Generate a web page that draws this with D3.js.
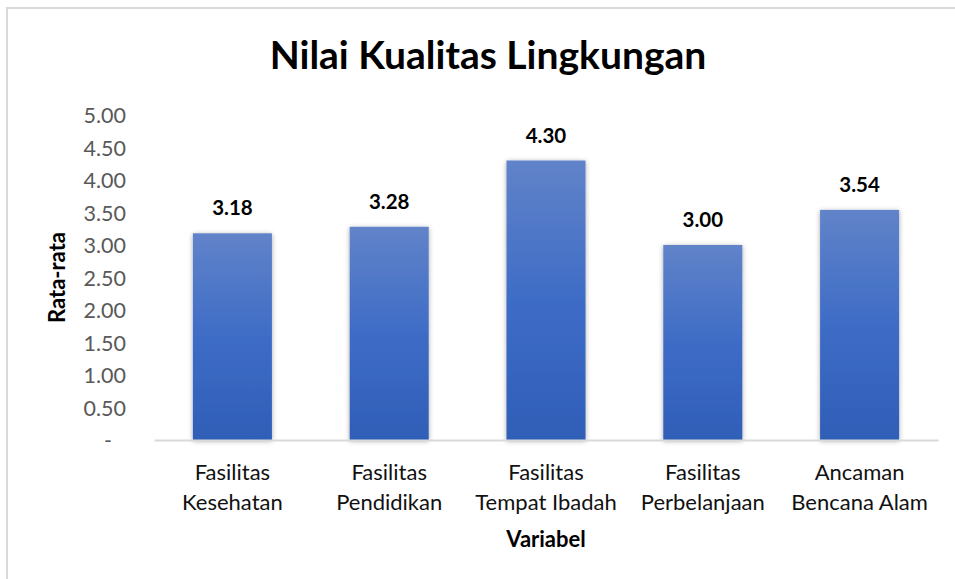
<!DOCTYPE html>
<html>
<head>
<meta charset="utf-8">
<script src="https://cdn.jsdelivr.net/npm/d3@7"></script>
<style>
  html, body { margin: 0; padding: 0; background: #fff; }
  svg { display: block; }
  text { font-family: Lato, "Open Sans", sans-serif; }
</style>
</head>
<body>
<svg id="chart" width="955" height="579"></svg>
<script>
const categories = [
  ["Fasilitas", "Kesehatan"],
  ["Fasilitas", "Pendidikan"],
  ["Fasilitas", "Tempat Ibadah"],
  ["Fasilitas", "Perbelanjaan"],
  ["Ancaman", "Bencana Alam"]
];
const values = [3.18, 3.28, 4.30, 3.00, 3.54];
const yTicks = [0, 0.5, 1, 1.5, 2, 2.5, 3, 3.5, 4, 4.5, 5];
const titleText = "Nilai Kualitas Lingkungan";
const yTitle = "Rata-rata";
const xTitle = "Variabel";

const svg = d3.select("#chart");
const W = 955, H = 579;
const m = { left: 154, right: 17, top: 115, bottom: 139 };

// chart border (right and bottom edges fall outside the picture)
svg.append("rect")
  .attr("x", 7).attr("y", 8)
  .attr("width", W + 20).attr("height", H + 20)
  .attr("fill", "#fff").attr("stroke", "#d9d9d9").attr("stroke-width", 2);

const defs = svg.append("defs");
const grad = defs.append("linearGradient").attr("id", "barGrad")
  .attr("x1", 0).attr("y1", 0).attr("x2", 0).attr("y2", 1);
grad.append("stop").attr("offset", "0%").attr("stop-color", "#6183c9");
grad.append("stop").attr("offset", "50%").attr("stop-color", "#3e6cc6");
grad.append("stop").attr("offset", "100%").attr("stop-color", "#2f5eb7");
const shadow = defs.append("filter").attr("id", "shadow")
  .attr("x", "-20%").attr("y", "-10%").attr("width", "140%").attr("height", "120%");
shadow.append("feDropShadow").attr("dx", 0).attr("dy", 1).attr("stdDeviation", 2.5)
  .attr("flood-color", "#000").attr("flood-opacity", 0.35);

const x = d3.scaleBand()
  .domain(d3.range(categories.length))
  .range([m.left, W - m.right])
  .paddingInner(0.496).paddingOuter(0.248);
const y = d3.scaleLinear().domain([0, 5]).range([H - m.bottom, m.top]);

// y axis labels
const yAxis = d3.axisLeft(y).tickValues(yTicks)
  .tickFormat(d => d === 0 ? "-" : d3.format(".2f")(d))
  .tickSize(0).tickPadding(0);
const gy = svg.append("g").attr("transform", "translate(126,0)").call(yAxis);
gy.select(".domain").remove();
gy.selectAll("text")
  .attr("fill", "#595959")
  .style("font-size", "21.5px")
  .style("font-family", "Lato, sans-serif")
  .attr("dy", "0.35em");
gy.selectAll(".tick").filter(d => d === 0).select("text").attr("dx", "-14px");

// bars
svg.append("g").selectAll("rect").data(values).join("rect")
  .attr("x", (d, i) => x(i))
  .attr("y", d => y(d))
  .attr("width", x.bandwidth())
  .attr("height", d => y(0) - y(d))
  .attr("fill", "url(#barGrad)")
  .attr("filter", "url(#shadow)");

// baseline axis
const xAxis = d3.axisBottom(x).tickSize(0).tickFormat("");
const gx = svg.append("g").attr("transform", `translate(0,${y(0)})`).call(xAxis);
gx.select(".domain").attr("stroke", "#d9d9d9").attr("stroke-width", 2);

// category labels
const labels = svg.append("g").selectAll("text").data(categories).join("text")
  .attr("text-anchor", "middle")
  .attr("fill", "#111")
  .style("font-size", "22px");
labels.each(function(d, i) {
  const t = d3.select(this);
  d.forEach((line, k) => {
    t.append("tspan")
      .attr("x", x(i) + x.bandwidth() / 2)
      .attr("y", 480 + k * 30)
      .text(line);
  });
});

// data labels
svg.append("g").selectAll("text").data(values).join("text")
  .attr("x", (d, i) => x(i) + x.bandwidth() / 2)
  .attr("y", d => y(d) - 18)
  .attr("text-anchor", "middle")
  .attr("fill", "#000")
  .style("font-size", "20.5px")
  .style("font-weight", "bold")
  .text(d => d3.format(".2f")(d));

// title
svg.append("text")
  .attr("x", 488).attr("y", 69)
  .attr("text-anchor", "middle")
  .style("font-size", "39px")
  .style("font-weight", "bold")
  .attr("fill", "#000")
  .text(titleText);

// axis titles
svg.append("text")
  .attr("transform", `translate(65,${(y(0) + y(5)) / 2}) rotate(-90)`)
  .attr("text-anchor", "middle")
  .style("font-size", "22px")
  .style("font-weight", "bold")
  .attr("fill", "#000")
  .text(yTitle);

svg.append("text")
  .attr("x", (m.left + W - m.right) / 2).attr("y", 547)
  .attr("text-anchor", "middle")
  .style("font-size", "22px")
  .style("font-weight", "bold")
  .attr("fill", "#000")
  .text(xTitle);
</script>
</body>
</html>
